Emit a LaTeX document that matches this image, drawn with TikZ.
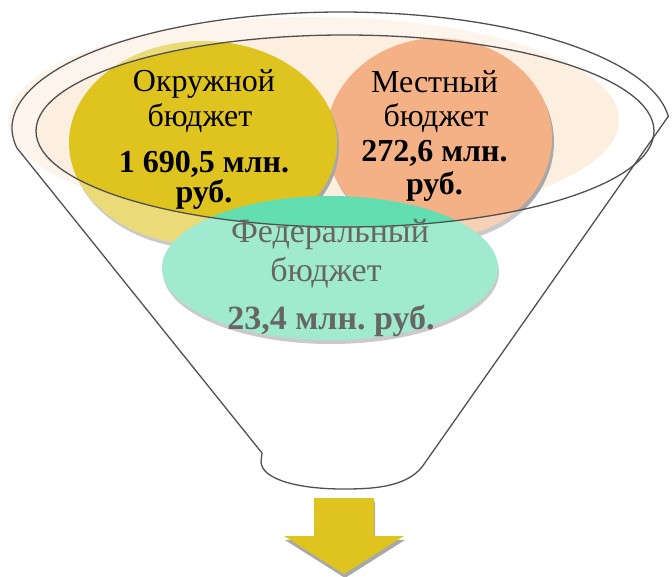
\documentclass[tikz,border=0pt]{standalone}
\usepackage{fontspec}
\setmainfont{Liberation Serif}
\frenchspacing
\definecolor{lineclr}{HTML}{505050}
\definecolor{peach}{HTML}{FDEFE0}
\definecolor{yellowc}{HTML}{DFC41F}
\definecolor{salmon}{HTML}{F3B185}
\definecolor{greenc}{HTML}{62DEB0}
\definecolor{shadowc}{HTML}{A8A8A8}
\definecolor{fedtext}{HTML}{666666}
\begin{document}
\begin{tikzpicture}[x=1pt,y=-1pt,
  outline/.style={draw=lineclr, line width=1.3pt},
  txt/.style={anchor=base, inner sep=0pt, font=\fontsize{32}{36}\selectfont},
  btxt/.style={anchor=base, inner sep=0pt, font=\fontsize{32}{36}\selectfont\bfseries},
  ftxt/.style={anchor=base, inner sep=0pt, text=fedtext, font=\fontsize{34}{38}\selectfont},
  fbtxt/.style={anchor=base, inner sep=0pt, text=fedtext, font=\fontsize{34}{38}\selectfont\bfseries}]
\useasboundingbox (0,0) rectangle (672,577);
% background peach ellipse
\fill[peach] (313.5,120) ellipse [x radius=305.5pt, y radius=103pt];
% bubbles with shadows
\fill[shadowc] (441,142) ellipse [x radius=113pt, y radius=100pt];
\fill[salmon] (439,138) ellipse [x radius=113pt, y radius=100pt];
\fill[shadowc] (205,147) ellipse [x radius=134pt, y radius=102pt];
\fill[yellowc] (203,143) ellipse [x radius=134pt, y radius=102pt];
\fill[shadowc] (331,272) ellipse [x radius=168pt, y radius=72pt];
\fill[greenc] (330,268) ellipse [x radius=168pt, y radius=72pt];
% translucent white veil outside the mouth of the funnel
\fill[white, opacity=0.4, even odd rule] (0,0) rectangle (672,480)
  (345,131) ellipse [x radius=309pt, y radius=96pt];
% funnel outline
\draw[outline, line join=round] (262,453) -- (17,148)
  -- plot[domain=0:1, samples=150] ({341+329*cos(189.9-184.46*\x)},{128-116*sin(189.9-184.46*\x)})
  -- (422,467) .. controls (405,488) and (370,489) .. (343,489)
  .. controls (300,489) and (262,480) .. (261,462) -- cycle;
\draw[outline] (345,131) ellipse [x radius=309pt, y radius=96pt];
% texts
\node[txt] (o1) at (204,92) {Окружной};
\node[txt] (o2) at (200,127) {бюджет};
\node[btxt] (o3) at (204,173) {1 690,5 млн.};
\node[btxt] (o4) at (204,203) {руб.};
\node[txt] (m1) at (434.5,93) {Местный};
\node[txt] (m2) at (436,127) {бюджет};
\node[btxt] (m3) at (434.5,162) {272,6 млн.};
\node[btxt] (m4) at (434.5,195) {руб.};
\node[ftxt] (f1) at (330,243) {Федеральный};
\node[ftxt] (f2) at (326,282) {бюджет};
\node[fbtxt] (f3) at (331,330) {23,4 млн. руб.};
% arrow
\fill[shadowc] (315,502) -- (375,502) -- (375,540) -- (405,540) -- (345,578) -- (285,540) -- (315,540) -- cycle;
\fill[yellowc] (314,498) -- (374,498) -- (374,536) -- (404,536) -- (344,574) -- (284,536) -- (314,536) -- cycle;
\end{tikzpicture}
\end{document}
